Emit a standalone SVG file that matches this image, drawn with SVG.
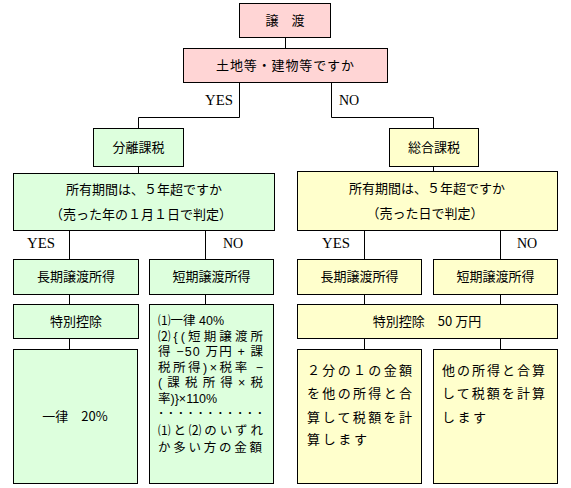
<svg xmlns="http://www.w3.org/2000/svg" width="571" height="488" viewBox="0 0 571 488">
<style>
.b{stroke:#000;stroke-width:1}
.p{fill:#FFD5D5}
.g{fill:#DDFFDD}
.y{fill:#FFFFCC}
text{font-family:"Noto Sans CJK JP","Liberation Sans",sans-serif;font-size:13px;fill:#000}
.c{text-anchor:middle}
.lab{font-family:"Liberation Serif",serif;font-size:14px}
.cn{fill:none;stroke:#000;stroke-width:1}
.s{font-family:"Liberation Sans","Noto Sans CJK JP",sans-serif;font-size:12.5px}
</style>
<rect width="571" height="488" fill="#fff"/>
<g id="connectors">
<path class="cn" d="M285.5,38V48"/>
<path class="cn" d="M239.5,83V117.5H138.5V128"/>
<path class="cn" d="M331.5,83V117.5H433.5V128"/>
<path class="cn" d="M138.5,167V173"/>
<path class="cn" d="M433.5,167V171"/>
<path class="cn" d="M69.5,231V259M69.5,294V304M69.5,338V349"/>
<path class="cn" d="M205.5,231V259M205.5,294V304"/>
<path class="cn" d="M364.5,231V259M364.5,294V304M364.5,338V349"/>
<path class="cn" d="M500.5,231V259M500.5,294V304M500.5,338V349"/>
</g>
<g id="labels">
<text class="lab" x="205" y="105" textLength="28" lengthAdjust="spacingAndGlyphs">YES</text>
<text class="lab" x="339" y="105">NO</text>
<text class="lab" x="27" y="248" textLength="28" lengthAdjust="spacingAndGlyphs">YES</text>
<text class="lab" x="223" y="248">NO</text>
<text class="lab" x="322" y="248" textLength="28" lengthAdjust="spacingAndGlyphs">YES</text>
<text class="lab" x="517" y="248">NO</text>
</g>
<g id="n-jouto">
<rect class="b p" x="239.5" y="3.5" width="91" height="34"/>
<text class="c" x="285" y="25">譲　渡</text>
</g>
<g id="n-tochi">
<rect class="b p" x="183.5" y="48.5" width="204" height="34"/>
<text class="c" x="285" y="70" textLength="138" lengthAdjust="spacing">土地等・建物等ですか</text>
</g>
<g id="n-bunri">
<rect class="b g" x="93.5" y="128.5" width="90" height="38"/>
<text class="c" x="138.5" y="152">分離課税</text>
</g>
<g id="n-sogo">
<rect class="b y" x="389.5" y="128.5" width="89" height="38"/>
<text class="c" x="434" y="152">総合課税</text>
</g>
<g id="n-q-left">
<rect class="b g" x="13.5" y="173.5" width="261" height="57"/>
<text class="c" x="144" y="194">所有期間は、５年超ですか</text>
<text class="c" x="141" y="219">（売った年の１月１日で判定）</text>
</g>
<g id="n-q-right">
<rect class="b y" x="297.5" y="171.5" width="260" height="59"/>
<text class="c" x="427" y="193">所有期間は、５年超ですか</text>
<text class="c" x="425" y="218">（売った日で判定）</text>
</g>
<g id="n-l-long">
<rect class="b g" x="13.5" y="259.5" width="125" height="35"/>
<text class="c" x="76" y="281">長期譲渡所得</text>
</g>
<g id="n-l-short">
<rect class="b g" x="149.5" y="259.5" width="124" height="35"/>
<text class="c" x="211.5" y="281">短期譲渡所得</text>
</g>
<g id="n-r-long">
<rect class="b y" x="297.5" y="259.5" width="124" height="35"/>
<text class="c" x="359.5" y="281">長期譲渡所得</text>
</g>
<g id="n-r-short">
<rect class="b y" x="433.5" y="259.5" width="124" height="35"/>
<text class="c" x="495.5" y="281">短期譲渡所得</text>
</g>
<g id="n-l-toku">
<rect class="b g" x="13.5" y="304.5" width="125" height="34"/>
<text class="c" x="76" y="326">特別控除</text>
</g>
<g id="n-l-calc">
<rect class="b g" x="149.5" y="304.5" width="124" height="179"/>
<text class="s" x="158" y="325">⑴一律 40%</text>
<text class="s" x="158" y="341" textLength="105" lengthAdjust="spacing">⑵{(短期譲渡所</text>
<text class="s" x="158" y="356" textLength="105" lengthAdjust="spacing">得 −50 万円 + 課</text>
<text class="s" x="158" y="372" textLength="105" lengthAdjust="spacing">税所得)×税率 −</text>
<text class="s" x="158" y="387" textLength="105" lengthAdjust="spacing">(課税所得×税</text>
<text class="s" x="158" y="403">率)}×110%</text>
<text class="s" x="158" y="418" textLength="105" lengthAdjust="spacing">･･･････････</text>
<text class="s" x="158" y="435" textLength="105" lengthAdjust="spacing">⑴と⑵のいずれ</text>
<text class="s" x="158" y="452" textLength="104" lengthAdjust="spacing">か多い方の金額</text>
</g>
<g id="n-r-toku">
<rect class="b y" x="297.5" y="304.5" width="260" height="34"/>
<text class="c" x="427" y="326">特別控除　50 万円</text>
</g>
<g id="n-l-rate">
<rect class="b g" x="13.5" y="349.5" width="124" height="134"/>
<text class="c" x="75" y="421">一律　20%</text>
</g>
<g id="n-r-half">
<rect class="b y" x="297.5" y="349.5" width="124" height="134"/>
<text x="307" y="375" textLength="105" lengthAdjust="spacing">２分の１の金額</text>
<text x="307" y="398" textLength="105" lengthAdjust="spacing">を他の所得と合</text>
<text x="307" y="422" textLength="105" lengthAdjust="spacing">算して税額を計</text>
<text x="307" y="444" textLength="60" lengthAdjust="spacing">算します</text>
</g>
<g id="n-r-all">
<rect class="b y" x="433.5" y="349.5" width="124" height="134"/>
<text x="442" y="375" textLength="103" lengthAdjust="spacing">他の所得と合算</text>
<text x="442" y="398" textLength="103" lengthAdjust="spacing">して税額を計算</text>
<text x="442" y="422" textLength="44" lengthAdjust="spacing">します</text>
</g>
</svg>
